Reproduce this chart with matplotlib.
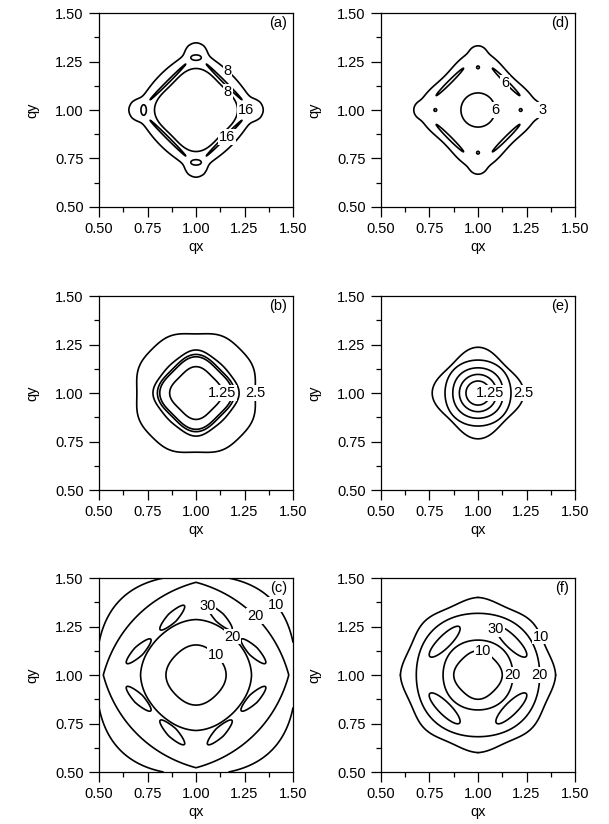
import numpy as np
import matplotlib
matplotlib.use("Agg")
import matplotlib.pyplot as plt
from matplotlib.ticker import MultipleLocator, FormatStrFormatter

plt.rcParams['font.family'] = ['Liberation Sans', 'DejaVu Sans']

# --- values ---
panel_tags = ['(a)', '(b)', '(c)', '(d)', '(e)', '(f)']

levels_a = [8, 16]
levels_b = [1.25, 1.5625, 1.875, 2.1875, 2.5]
levels_c = [10, 20, 30]
levels_d = [3, 6]
levels_e = [1.25, 1.5625, 1.875, 2.1875, 2.5]
levels_f = [10, 20, 30]

# closed contours around (1, 1): radius on the axes, diamond factor, corner kink, 8-fold ripple
rings_a = [(0.310, 0.00, 0.48, 0.0), (0.214, 0.08, 0.0, 0.0)]
rings_b = [(0.136, 0.07, 0.0, 0.0), (0.187, 0.07, 0.0, 0.0), (0.199, 0.07, 0.0, 0.0),
           (0.222, 0.06, 0.0, 0.01), (0.305, -0.025, 0.0, -0.015)]
rings_c = [(0.155, 0.03, 0.0, 0.0), (0.286, 0.015, 0.04, 0.0),
           (0.478, 0.0, 0.27, 0.0), (0.515, -0.033, 0.0, 0.0)]
rings_d = [(0.300, 0.10, 0.0, 0.0), (0.088, 0.0, 0.0, 0.0)]
rings_e = [(0.062, 0.0, 0.0, 0.0), (0.096, 0.0, 0.0, 0.0), (0.130, -0.01, 0.0, 0.0),
           (0.170, -0.01, 0.0, 0.0), (0.236, 0.085, 0.0, 0.0)]
rings_f = [(0.125, 0.04, 0.0, 0.0), (0.180, -0.01, 0.0, 0.0),
           (0.318, -0.015, 0.0, 0.0), (0.400, 0.0, 0.06, 0.02)]

# small closed loops: distance from (1, 1), half length, half width
knob_a = (0.29, 0.055, 0.055)
strip_a = (0.205, 0.13, 0.006)
cap_a = (0.27, 0.027, 0.014)
knob_d = (0.285, 0.045, 0.045)
strip_d = (0.205, 0.10, 0.008)
dot_d = (0.22, 0.007, 0.007)
island_c = (0.32, 0.088, 0.026)
island_f = (0.243, 0.108, 0.032)

# --- grid ---
q = np.linspace(0.5, 1.5, 601)
QX, QY = np.meshgrid(q, q)
DX, DY = QX - 1.0, QY - 1.0
R = np.hypot(DX, DY)
TH = np.arctan2(DY, DX)
G4 = np.abs(np.cos(TH)) + np.abs(np.sin(TH)) - 1.0


def ring(r_axis, sq, kink, c8):
    f = (1 - sq * np.cos(4 * TH) + kink * G4 - c8 * np.cos(8 * TH)) / (1 - sq - c8)
    return R * f - r_axis


def lens(cx, cy, half_len, half_wid, ang, pw=2.0):
    c, s = np.cos(ang), np.sin(ang)
    l = (DX - cx) * c + (DY - cy) * s
    w = -(DX - cx) * s + (DY - cy) * c
    e = np.sqrt((np.abs(l) / half_len) ** pw + (w / half_wid) ** 2)
    return (e - 1.0) * half_wid


def around(spec, angles_deg, orient, pw=2.0):
    rad, hl, hw = spec
    d = None
    for a in np.radians(angles_deg):
        cx, cy = rad * np.cos(a), rad * np.sin(a)
        if orient == 'tangent':
            o = a + np.pi / 2
        else:  # along the diamond edge of the quadrant
            o = np.radians(135) if cx * cy > 0 else np.radians(45)
        part = lens(cx, cy, hl, hw, o, pw)
        d = part if d is None else np.minimum(d, part)
    return d


def smin(a, b, k=0.012):
    return -k * np.logaddexp(-a / k, -b / k)


def solid(d, k=0.0025):
    return 0.5 * (1.0 - np.tanh(d / (2 * k)))


AXES4 = [0, 90, 180, 270]
DIAG4 = [45, 135, 225, 315]
OCT8 = [22.5 + 45 * i for i in range(8)]

# (a)
step = levels_a[1] - levels_a[0]
outer = smin(ring(*rings_a[0]), around(knob_a, AXES4, 'tangent'), 0.015)
feats = np.minimum(around(strip_a, DIAG4, 'tangent'), around(cap_a, AXES4, 'tangent'))
field_a = (levels_a[0] - step / 2 + step * solid(outer) - step * solid(ring(*rings_a[1]))
           + step * solid(feats))

# (d)
step = levels_d[1] - levels_d[0]
outer = smin(ring(*rings_d[0]), around(knob_d, AXES4, 'tangent'), 0.012)
feats = np.minimum(np.minimum(around(strip_d, DIAG4, 'tangent'), around(dot_d, AXES4, 'tangent')),
                   ring(*rings_d[1]))
field_d = levels_d[0] - step / 2 + step * solid(outer) + step * solid(feats)


# (b), (e): value grows outwards, one step per ring
def nested(levels, rings):
    step = levels[1] - levels[0]
    return levels[-1] + step / 2 - step * sum(solid(ring(*rg)) for rg in rings)


field_b = nested(levels_b, rings_b)
field_e = nested(levels_e, rings_e)


# (c), (f): ridge with islands on top
def ridge(levels, rings, islands):
    step = levels[1] - levels[0]
    f = levels[0] - step / 2
    f = f - step * solid(ring(*rings[0])) - step * solid(ring(*rings[1]))
    f = f + step * solid(ring(*rings[2])) + step * solid(ring(*rings[3]))
    return f + step * solid(islands)


field_c = ridge(levels_c, rings_c, around(island_c, OCT8, 'edge', pw=1.4))
field_f = ridge(levels_f, rings_f, around(island_f, DIAG4, 'tangent'))

# --- figure ---
fig = plt.figure(figsize=(6.09, 8.24), dpi=100)
lefts = [0.1626, 0.6256]
bottoms = [0.7488, 0.4053, 0.0631]
w, h = 0.3186, 0.2354

panels = [
    (0, 0, field_a, levels_a, '(a)', [(1.15, 1.19), (1.14, 1.07), (1.27, 1.0), (1.16, 0.86)]),
    (0, 1, field_b, levels_b, '(b)', [(1.13, 1.0), (1.30, 1.0)]),
    (0, 2, field_c, levels_c, '(c)', [(1.05, 1.36), (1.27, 1.27), (1.18, 1.19), (1.09, 1.09), (1.41, 1.36)]),
    (1, 0, field_d, levels_d, '(d)', [(1.14, 1.14), (1.09, 1.0), (1.32, 1.0)]),
    (1, 1, field_e, levels_e, '(e)', [(1.06, 1.0), (1.22, 1.0)]),
    (1, 2, field_f, levels_f, '(f)', [(1.06, 1.23), (1.02, 1.11), (1.18, 1.0), (1.32, 1.0), (1.33, 1.2)]),
]

for col, row, field, levels, tag, spots in panels:
    ax = fig.add_axes([lefts[col], bottoms[row], w, h])
    ax.contour(QX, QY, field, levels=levels, colors='k', linewidths=1.2)
    lab_levels = [levels[0], levels[-1]] if len(levels) == 5 else levels
    cs_lab = ax.contour(QX, QY, field, levels=lab_levels, colors='k', linewidths=0)
    texts = ax.clabel(cs_lab, manual=spots, inline=False, fmt='%g', fontsize=10.5, colors='k')
    for t in texts:
        t.set_rotation(0)
        t.set_bbox(dict(boxstyle='square,pad=0.05', fc='white', ec='none'))
    ax.text(0.97, 0.985, tag, transform=ax.transAxes, ha='right', va='top', fontsize=10.5)
    ax.set_xlim(0.5, 1.5)
    ax.set_ylim(0.5, 1.5)
    for axis in (ax.xaxis, ax.yaxis):
        axis.set_major_locator(MultipleLocator(0.25))
        axis.set_minor_locator(MultipleLocator(0.125))
        axis.set_major_formatter(FormatStrFormatter('%.2f'))
    ax.tick_params(which='both', direction='out', top=False, right=False, width=0.9, labelsize=10.5)
    ax.tick_params(which='major', length=7.5)
    ax.tick_params(which='minor', length=3.5)
    ax.set_xlabel('qx', fontsize=10.5, labelpad=3)
    ax.set_ylabel('qy', fontsize=10.5, labelpad=11)
    for sp in ax.spines.values():
        sp.set_linewidth(0.9)

fig.savefig('out.png', dpi=100)
